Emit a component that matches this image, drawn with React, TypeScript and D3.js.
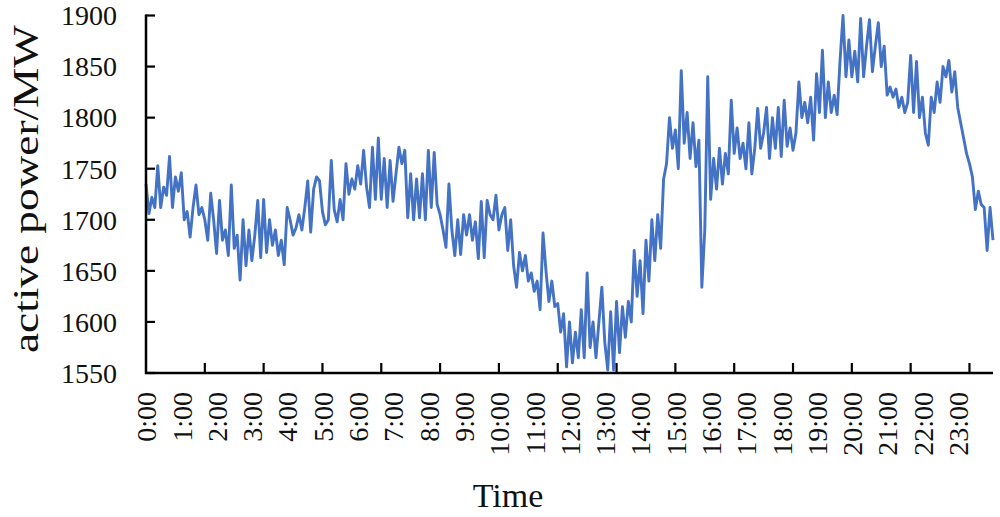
import React from "react";
import * as d3 from "d3";

const sampleStepMinutes = 5;
const activePower: number[] = [
  1735, 1706, 1722, 1712, 1753, 1712, 1732, 1724, 1762, 1712,
  1742, 1728, 1746, 1700, 1708, 1683, 1712, 1734, 1705, 1712,
  1700, 1680, 1726, 1700, 1667, 1719, 1680, 1690, 1665, 1734,
  1672, 1685, 1641, 1700, 1655, 1690, 1660, 1685, 1719, 1663,
  1720, 1668, 1700, 1675, 1690, 1665, 1680, 1656, 1712, 1700,
  1685, 1692, 1705, 1690, 1712, 1738, 1688, 1730, 1742, 1738,
  1708, 1695, 1700, 1758, 1710, 1698, 1720, 1700, 1755, 1725,
  1740, 1730, 1753, 1735, 1768, 1732, 1712, 1771, 1720, 1780,
  1720, 1760, 1712, 1758, 1718, 1745, 1771, 1755, 1768, 1702,
  1745, 1700, 1740, 1702, 1745, 1700, 1768, 1712, 1766, 1715,
  1705, 1690, 1673, 1735, 1690, 1665, 1700, 1666, 1705, 1685,
  1705, 1680, 1698, 1662, 1718, 1663, 1719, 1705, 1700, 1724,
  1690, 1705, 1712, 1670, 1700, 1655, 1634, 1668, 1650, 1665,
  1640, 1648, 1630, 1640, 1612, 1687, 1650, 1620, 1640, 1615,
  1618, 1590, 1608, 1556, 1600, 1560, 1590, 1565, 1612, 1565,
  1648, 1575, 1600, 1565, 1600, 1634, 1580, 1553, 1610, 1553,
  1620, 1570, 1615, 1585, 1620, 1600, 1670, 1625, 1660, 1608,
  1680, 1640, 1700, 1660, 1705, 1672, 1740, 1755, 1800, 1770,
  1788, 1750, 1846, 1775, 1805, 1760, 1795, 1752, 1778, 1634,
  1690, 1840, 1720, 1760, 1730, 1770, 1735, 1765, 1745, 1817,
  1765, 1790, 1760, 1775, 1750, 1795, 1745, 1770, 1809, 1770,
  1785, 1810, 1760, 1800, 1770, 1810, 1762, 1817, 1772, 1790,
  1768, 1785, 1835, 1800, 1815, 1795, 1820, 1778, 1843, 1805,
  1866, 1800, 1835, 1805, 1822, 1803, 1856, 1900, 1840, 1876,
  1840, 1865, 1835, 1897, 1840, 1870, 1896, 1845, 1870, 1893,
  1850, 1870, 1822, 1830, 1820, 1828, 1810, 1820, 1805, 1815,
  1861, 1805, 1855, 1800, 1820, 1785, 1773, 1820, 1805, 1835,
  1815, 1850, 1840, 1856, 1825, 1845, 1810, 1795, 1780, 1765,
  1755, 1742, 1710, 1728, 1715, 1712, 1670, 1712, 1680,
];

const hourLabels: string[] = [
  "0:00", "1:00", "2:00", "3:00", "4:00", "5:00", "6:00", "7:00",
  "8:00", "9:00", "10:00", "11:00", "12:00", "13:00", "14:00", "15:00",
  "16:00", "17:00", "18:00", "19:00", "20:00", "21:00", "22:00", "23:00",
];

const xTickMinutes: number[] = [100, 200, 300, 400, 500, 600, 700, 800, 900, 1000, 1100, 1200, 1300, 1400];
const yTicks: number[] = [1550, 1600, 1650, 1700, 1750, 1800, 1850, 1900];

const W = 1000;
const H = 517;
const left = 146;
const right = 993;
const top = 15.5;
const bottom = 373;
const FONT = "'Liberation Serif', 'Times New Roman', serif";

export default function App() {
  const x = d3.scaleLinear().domain([0, 1440]).range([left, right]);
  const y = d3.scaleLinear().domain([1550, 1900]).range([bottom, top]);

  const line = d3
    .line<number>()
    .x((_, i) => x(i * sampleStepMinutes))
    .y((d) => y(d));

  return (
    <svg
      width={W}
      height={H}
      style={{ position: "absolute", left: 0, top: 0, background: "#fff" }}
      fontFamily={FONT}
    >
      <rect x={0} y={0} width={W} height={H} fill="#fff" />
      <path d={line(activePower) || ""} fill="none" stroke="#4472C4" strokeWidth={2.9} strokeLinejoin="round" />

      {/* y axis */}
      <line x1={left} x2={left} y1={top - 1} y2={bottom + 1} stroke="#000" strokeWidth={2.5} />
      {yTicks.map((t) => (
        <g key={t}>
          <line x1={left} x2={left + 9} y1={y(t)} y2={y(t)} stroke="#000" strokeWidth={2.2} />
          <text x={117} y={y(t)} dy="0.35em" textAnchor="end" fontSize={28} fill="#111">
            {t}
          </text>
        </g>
      ))}

      {/* x axis */}
      <line x1={left - 1} x2={right} y1={bottom} y2={bottom} stroke="#000" strokeWidth={2.5} />
      {xTickMinutes.map((m) => (
        <line key={m} x1={x(m)} x2={x(m)} y1={bottom} y2={bottom - 10} stroke="#000" strokeWidth={2.2} />
      ))}
      {hourLabels.map((lab, i) => (
        <text
          key={lab}
          transform={`translate(${x(i * 60) + 0.5},392) rotate(-90)`}
          dy="0.35em"
          textAnchor="end"
          fontSize={28}
          fill="#111"
        >
          {lab}
        </text>
      ))}

      <text x={508} y={507} textAnchor="middle" fontSize={34} fill="#111">
        Time
      </text>
      <text
        transform={`translate(38,189) rotate(-90)`}
        textAnchor="middle"
        fontSize={36}
        textLength={328}
        lengthAdjust="spacingAndGlyphs"
        fill="#111"
      >
        active power/MW
      </text>
    </svg>
  );
}
